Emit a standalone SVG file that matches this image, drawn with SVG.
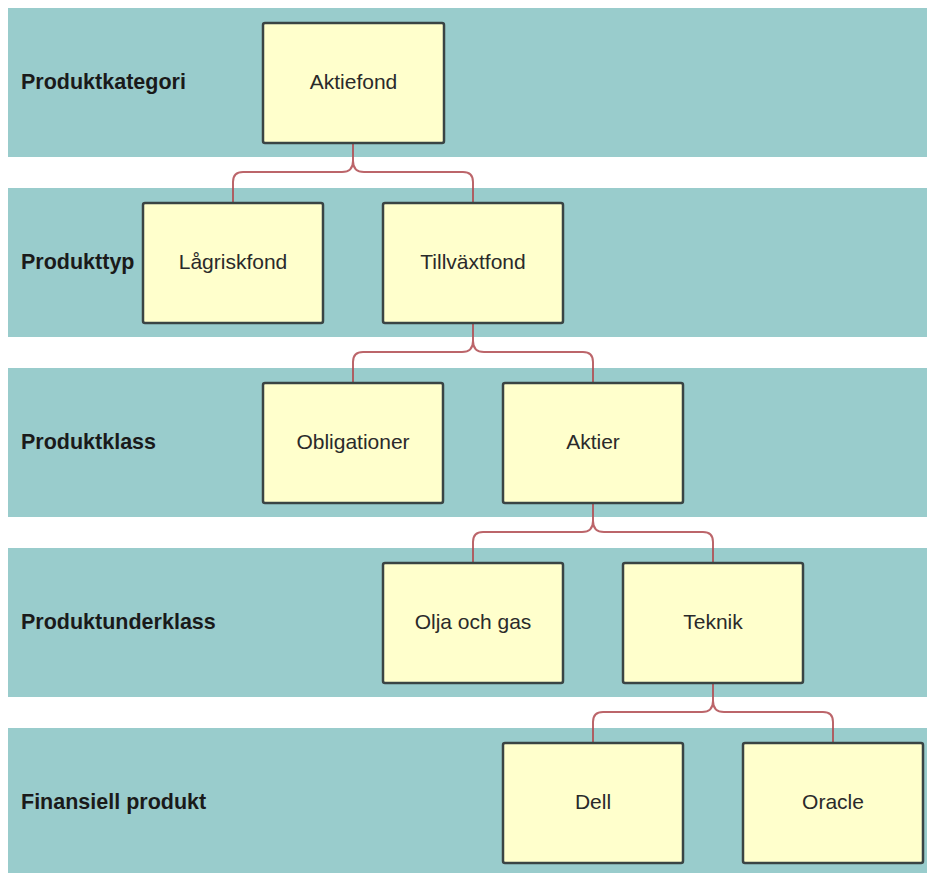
<svg xmlns="http://www.w3.org/2000/svg" width="927" height="873" viewBox="0 0 927 873">
<style>
.band{fill:#99cccc}
.lbl{font-family:"Liberation Sans",Arial,sans-serif;font-size:21.5px;font-weight:bold;fill:#1a1a1a}
.box{fill:#ffffcc;stroke:#3a4444;stroke-width:2.5}
.txt{font-family:"Liberation Sans",Arial,sans-serif;font-size:21px;fill:#2a2a2a;text-anchor:middle}
.con{fill:none;stroke:#b04a50;stroke-width:2;stroke-opacity:0.85}
</style>
<rect width="927" height="873" fill="#ffffff"/>
<g id="lanes">
<rect class="band" x="8" y="8" width="919" height="149"/>
<rect class="band" x="8" y="188" width="919" height="149"/>
<rect class="band" x="8" y="368" width="919" height="149"/>
<rect class="band" x="8" y="548" width="919" height="149"/>
<rect class="band" x="8" y="728" width="919" height="145"/>
<text class="lbl" x="21" y="89">Produktkategori</text>
<text class="lbl" x="21" y="269">Produkttyp</text>
<text class="lbl" x="21" y="449">Produktklass</text>
<text class="lbl" x="21" y="629">Produktunderklass</text>
<text class="lbl" x="21" y="809">Finansiell produkt</text>
</g>
<g id="connectors">
<path class="con" d="M353,143 V161 Q353,172 342,172 H243 Q233,172 233,182 V203 M353,161 Q353,172 364,172 H463 Q473,172 473,182 V203"/>
<path class="con" d="M473,323 V341 Q473,352 462,352 H363 Q353,352 353,362 V383 M473,341 Q473,352 484,352 H583 Q593,352 593,362 V383"/>
<path class="con" d="M593,503 V521 Q593,532 582,532 H483 Q473,532 473,542 V563 M593,521 Q593,532 604,532 H703 Q713,532 713,542 V563"/>
<path class="con" d="M713,683 V701 Q713,712 702,712 H603 Q593,712 593,722 V743 M713,701 Q713,712 724,712 H823 Q833,712 833,722 V743"/>
</g>
<g id="n-aktiefond"><rect class="box" x="263" y="23" width="181" height="120" rx="2"/><text class="txt" x="353.5" y="89">Aktiefond</text></g>
<g id="n-lagriskfond"><rect class="box" x="143" y="203" width="180" height="120" rx="2"/><text class="txt" x="233" y="269">Lågriskfond</text></g>
<g id="n-tillvaxtfond"><rect class="box" x="383" y="203" width="180" height="120" rx="2"/><text class="txt" x="473" y="269">Tillväxtfond</text></g>
<g id="n-obligationer"><rect class="box" x="263" y="383" width="180" height="120" rx="2"/><text class="txt" x="353" y="449">Obligationer</text></g>
<g id="n-aktier"><rect class="box" x="503" y="383" width="180" height="120" rx="2"/><text class="txt" x="593" y="449">Aktier</text></g>
<g id="n-olja"><rect class="box" x="383" y="563" width="180" height="120" rx="2"/><text class="txt" x="473" y="629">Olja och gas</text></g>
<g id="n-teknik"><rect class="box" x="623" y="563" width="180" height="120" rx="2"/><text class="txt" x="713" y="629">Teknik</text></g>
<g id="n-dell"><rect class="box" x="503" y="743" width="180" height="120" rx="2"/><text class="txt" x="593" y="809">Dell</text></g>
<g id="n-oracle"><rect class="box" x="743" y="743" width="180" height="120" rx="2"/><text class="txt" x="833" y="809">Oracle</text></g>
</svg>
